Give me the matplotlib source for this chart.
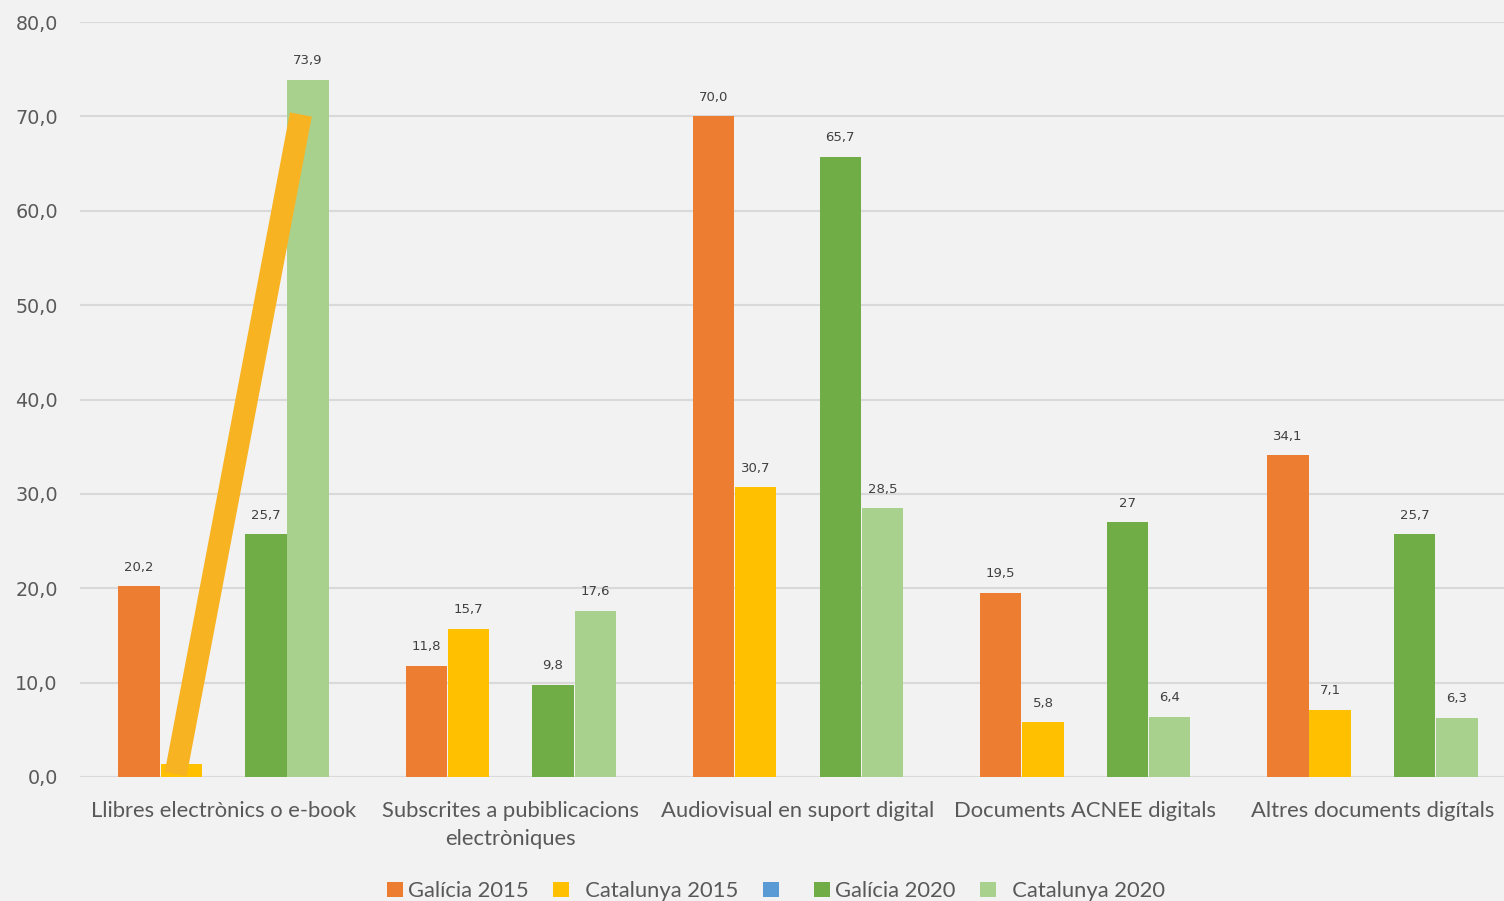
import numpy as np
import matplotlib.pyplot as plt

categories = ['Llibres electrònics o e-book', 'Subscrites a pubiblicacions\nelectròniques',
              'Audiovisual en suport digital', 'Documents ACNEE digitals',
              'Altres documents digítals']
series_names = ['Galícia 2015', '  Catalunya 2015', ' ', 'Galícia 2020', '  Catalunya 2020']
galicia_2015 = [20.2, 11.8, 70.0, 19.5, 34.1]
catalunya_2015 = [1.4, 15.7, 30.7, 5.8, 7.1]
blank_series = [np.nan] * 5
galicia_2020 = [25.7, 9.8, 65.7, 27.0, 25.7]
catalunya_2020 = [73.9, 17.6, 28.5, 6.4, 6.3]
label_texts = [
    ['20,2', '11,8', '70,0', '19,5', '34,1'],
    ['1,4', '15,7', '30,7', '5,8', '7,1'],
    None,
    ['25,7', '9,8', '65,7', '27', '25,7'],
    ['73,9', '17,6', '28,5', '6,4', '6,3'],
]
y_ticks = [0, 10, 20, 30, 40, 50, 60, 70, 80]

colors = ['#ED7D31', '#FFC000', '#5B9BD5', '#70AD47', '#A9D18E']
bg = '#F2F2F2'
txt = '#595959'

fig = plt.figure(figsize=(15.04, 9.01), dpi=100, facecolor=bg)
ax = fig.add_axes([80 / 1504, 124 / 901, 1436 / 1504, 755 / 901], facecolor=bg)

x = np.arange(len(categories))
w = 0.147
all_series = [galicia_2015, catalunya_2015, blank_series, galicia_2020, catalunya_2020]
for i, (vals, name, c) in enumerate(zip(all_series, series_names, colors)):
    pos = x + (i - 2) * w
    ax.bar(pos, vals, width=w * 0.98, color=c, label=name, zorder=2)
    if label_texts[i] is not None:
        for px, v, t in zip(pos, vals, label_texts[i]):
            ax.annotate(t, (px, v), xytext=(0, 9), textcoords='offset points',
                        ha='center', va='bottom', fontsize=9.5, color='#404040',
                        family='DejaVu Sans', zorder=3)

# thick highlight stroke over the first group
ax.plot([x[0] - w - 0.02, x[0] + 2 * w - 0.025], [0.3, 70.2], color='#F8B323',
        lw=16, solid_capstyle='butt', zorder=5)

ax.set_xlim(-0.5, len(categories) - 0.5)
ax.set_ylim(0, 80)
ax.set_yticks(y_ticks)
ax.set_yticklabels([f'{t:.1f}'.replace('.', ',') for t in y_ticks],
                   fontsize=13.8, color=txt, family='DejaVu Sans')
ax.set_xticks(x)
ax.set_xticklabels(categories, fontsize=15.8, color=txt, family='Lato', linespacing=1.55)
ax.tick_params(axis='y', length=0, pad=16)
ax.tick_params(axis='x', length=0, pad=17)
ax.grid(axis='y', color='#D9D9D9', lw=1.5, zorder=0)
for s in ax.spines.values():
    s.set_visible(False)

leg = fig.legend(loc='center', bbox_to_anchor=(776 / 1504, 1 - 891 / 901), ncol=5,
                 frameon=False, prop={'family': 'Lato', 'size': 15.8},
                 handlelength=0.72, handleheight=0.72, handletextpad=0.25,
                 columnspacing=1.1, labelcolor=txt)

fig.savefig('out.png', dpi=100, facecolor=bg)
